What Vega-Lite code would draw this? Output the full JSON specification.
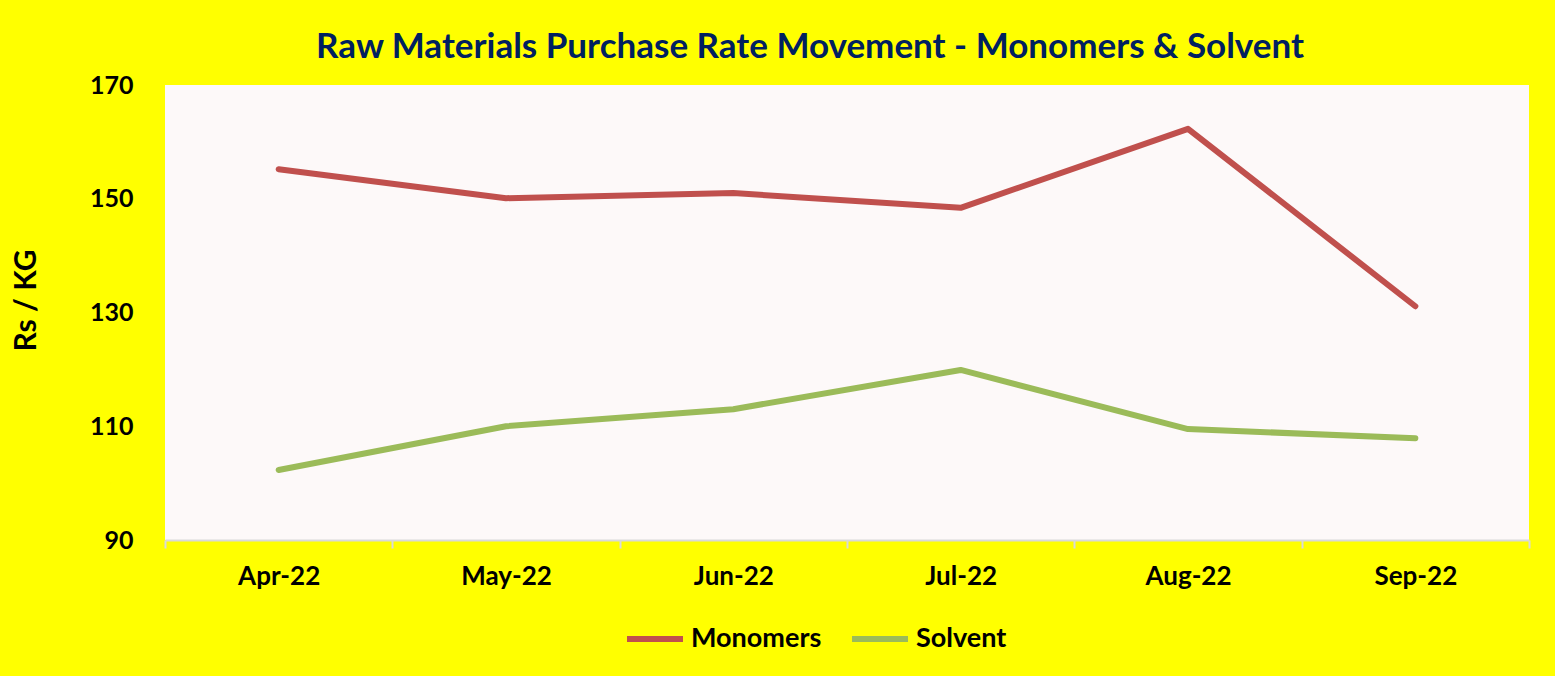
{
  "$schema": "https://vega.github.io/schema/vega-lite/v6.json",
  "autosize": {"type": "none"},
  "width": 1364,
  "height": 455,
  "padding": {"left": 165, "top": 85, "right": 26, "bottom": 136},
  "background": "#FFFF00",
  "title": {
    "text": "Raw Materials Purchase Rate Movement - Monomers & Solvent",
    "font": "Lato",
    "fontSize": 35,
    "fontWeight": "bold",
    "color": "#002060",
    "anchor": "middle",
    "dx": -37,
    "offset": 8
  },
  "data": {
    "values": [
      {"month": "Apr-22", "series": "Monomers", "rate": 155.2},
      {"month": "May-22", "series": "Monomers", "rate": 150.1},
      {"month": "Jun-22", "series": "Monomers", "rate": 151.0},
      {"month": "Jul-22", "series": "Monomers", "rate": 148.4},
      {"month": "Aug-22", "series": "Monomers", "rate": 162.3},
      {"month": "Sep-22", "series": "Monomers", "rate": 131.1},
      {"month": "Apr-22", "series": "Solvent", "rate": 102.3},
      {"month": "May-22", "series": "Solvent", "rate": 110.0},
      {"month": "Jun-22", "series": "Solvent", "rate": 113.0},
      {"month": "Jul-22", "series": "Solvent", "rate": 119.9},
      {"month": "Aug-22", "series": "Solvent", "rate": 109.5},
      {"month": "Sep-22", "series": "Solvent", "rate": 107.9}
    ]
  },
  "mark": {"type": "line", "strokeWidth": 6, "strokeCap": "round", "strokeJoin": "round"},
  "encoding": {
    "x": {
      "field": "month",
      "type": "ordinal",
      "sort": null,
      "scale": {"type": "band", "paddingInner": 0, "paddingOuter": 0},
      "axis": {
        "title": null,
        "labelAngle": 0,
        "labelFont": "Lato",
        "labelFontSize": 26,
        "labelFontWeight": "bold",
        "labelColor": "#000000",
        "labelPadding": 15,
        "tickBand": "extent",
        "tickSize": 8,
        "tickColor": "#D9D9D9",
        "tickWidth": 2,
        "domainColor": "#D9D9D9",
        "domainWidth": 2,
        "grid": false
      }
    },
    "y": {
      "field": "rate",
      "type": "quantitative",
      "scale": {"domain": [90, 170], "nice": false, "zero": false},
      "axis": {
        "title": "Rs / KG",
        "titleFont": "Lato",
        "titleFontSize": 30,
        "titleFontWeight": "bold",
        "titleColor": "#000000",
        "titlePadding": 48,
        "titleY": 215,
        "values": [90, 110, 130, 150, 170],
        "labelFont": "Lato",
        "labelFontSize": 25,
        "labelFontWeight": "bold",
        "labelColor": "#000000",
        "labelPadding": 32,
        "ticks": false,
        "domain": false,
        "grid": false
      }
    },
    "color": {
      "field": "series",
      "type": "nominal",
      "scale": {"domain": ["Monomers", "Solvent"], "range": ["#C0504D", "#9BBB59"]},
      "legend": {
        "title": null,
        "orient": "none",
        "legendX": 459,
        "legendY": 523,
        "direction": "horizontal",
        "symbolType": "stroke",
        "symbolStrokeWidth": 6,
        "symbolSize": 3136,
        "labelFont": "Lato",
        "labelFontSize": 27,
        "labelFontWeight": "bold",
        "labelColor": "#000000",
        "labelOffset": 5,
        "columnPadding": 18
      }
    }
  },
  "config": {
    "view": {"fill": "#FDF9F9", "stroke": null}
  }
}
